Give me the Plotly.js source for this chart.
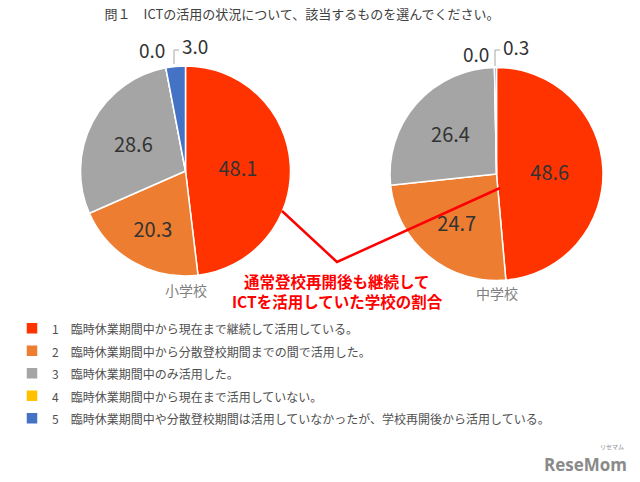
<!DOCTYPE html>
<html>
<head>
<meta charset="utf-8">
<script src="https://cdn.plot.ly/plotly-3.0.1.min.js"></script>
<style>html,body{margin:0;padding:0;background:#fff}#chart{width:640px;height:482px}</style>
</head>
<body>
<div id="chart"></div>
<script>
const categories = [
  "1\u3000臨時休業期間中から現在まで継続して活用している。",
  "2\u3000臨時休業期間中から分散登校期間までの間で活用した。",
  "3\u3000臨時休業期間中のみ活用した。",
  "4\u3000臨時休業期間中から現在まで活用していない。",
  "5\u3000臨時休業期間中や分散登校期間は活用していなかったが、学校再開後から活用している。"
];
const elementaryValues = [48.1, 20.3, 28.6, 0.0, 3.0];
const juniorHighValues = [48.6, 24.7, 26.4, 0.0, 0.3];
const schoolNames = ["小学校", "中学校"];
const sliceColors = ["#FF3300", "#ED7D31", "#A5A5A5", "#FFC000", "#4472C4"];
const titleText = "問１\u3000ICTの活用の状況について、該当するものを選んでください。";
const calloutLines = ["通常登校再開後も継続して", "ICTを活用していた学校の割合"];

const FONT = "'Noto Sans CJK JP', 'Noto Sans', sans-serif";
const W = 640, H = 482;
const px = x => x / W;
const py = y => 1 - y / H;

const legendLabels = categories.map(c => '<span style="font-size:12px">' + c + '</span>');

function pieTrace(values, cx, cy, r, showlegend) {
  return {
    type: 'pie',
    values: values,
    labels: legendLabels,
    sort: false,
    direction: 'clockwise',
    rotation: 0,
    marker: {colors: sliceColors, line: {color: '#ffffff', width: 1.5}},
    texttemplate: '%{value:.1f}',
    textposition: values.map(v => v < 5 ? 'none' : 'inside'),
    insidetextorientation: 'horizontal',
    textfont: {family: FONT, size: 20, color: '#333333'},
    domain: {x: [px(cx - r), px(cx + r)], y: [py(cy + r), py(cy - r)]},
    showlegend: showlegend,
    hoverinfo: 'label+value'
  };
}

const data = [
  pieTrace(elementaryValues, 185.5, 171, 105, true),
  pieTrace(juniorHighValues, 496.5, 174, 106.5, false)
];

// small-slice labels placed outside, pixel positions of the label boxes
const smallLabelPos = [
  {vals: elementaryValues, pos: {3: [152, 50], 4: [195, 45]}},
  {vals: juniorHighValues, pos: {3: [476, 53], 4: [516, 46]}}
];
const smallAnnotations = [];
smallLabelPos.forEach(s => {
  Object.keys(s.pos).forEach(k => {
    const p = s.pos[k];
    smallAnnotations.push({
      text: s.vals[k].toFixed(1), xref: 'paper', yref: 'paper', x: px(p[0]), y: py(p[1]),
      xanchor: 'center', yanchor: 'middle', showarrow: false,
      font: {family: FONT, size: 19, color: '#333333'}
    });
  });
});

const leader = (pts) => ({
  type: 'path', xref: 'paper', yref: 'paper',
  path: 'M ' + pts.map(p => px(p[0]) + ' ' + py(p[1])).join(' L '),
  line: {color: '#A6A6A6', width: 1}
});

const calloutAnnotations = calloutLines.map((t, i) => ({
  text: '<b>' + t + '</b>', xref: 'paper', yref: 'paper', x: px(337), y: py(281 + i * 20),
  xanchor: 'center', yanchor: 'middle', showarrow: false, align: 'center',
  font: {family: FONT, size: 15.5, color: '#FF0000'}
}));

const layout = {
  width: W, height: H,
  margin: {l: 0, r: 0, t: 0, b: 0},
  paper_bgcolor: '#ffffff',
  font: {family: FONT, color: '#404040'},
  title: {text: titleText, x: 0.472, xanchor: 'center', y: py(14), yanchor: 'middle',
          font: {family: FONT, size: 13, color: '#404040'}},
  showlegend: true,
  legend: {
    x: px(12), xanchor: 'left', y: py(312), yanchor: 'top',
    font: {family: FONT, size: 15, color: '#505050'},
    bgcolor: 'rgba(0,0,0,0)', traceorder: 'normal'
  },
  shapes: [
    {type: 'path', xref: 'paper', yref: 'paper',
     path: 'M ' + px(282) + ' ' + py(211) + ' L ' + px(337) + ' ' + py(262) + ' L ' + px(500) + ' ' + py(188),
     line: {color: '#FF0000', width: 2.5}},
    leader([[179, 50], [174, 50], [174, 64]]),
    leader([[500, 50], [495, 50], [495, 66]])
  ],
  annotations: smallAnnotations.concat(calloutAnnotations, [
    {text: schoolNames[0], xref: 'paper', yref: 'paper', x: px(186), y: py(290),
     xanchor: 'center', yanchor: 'middle', showarrow: false,
     font: {family: FONT, size: 14, color: '#7F7F7F'}},
    {text: schoolNames[1], xref: 'paper', yref: 'paper', x: px(497), y: py(293),
     xanchor: 'center', yanchor: 'middle', showarrow: false,
     font: {family: FONT, size: 14, color: '#7F7F7F'}},
    {text: '<b>ReseMom</b>', xref: 'paper', yref: 'paper', x: px(629), y: py(464),
     xanchor: 'right', yanchor: 'middle', showarrow: false,
     font: {family: "'Open Sans', sans-serif", size: 17, color: '#8A8A8A'}},
    {text: 'リセマム', xref: 'paper', yref: 'paper', x: px(612), y: py(446),
     xanchor: 'center', yanchor: 'middle', showarrow: false,
     font: {family: FONT, size: 6, color: '#8A8A8A'}}
  ])
};

Plotly.newPlot('chart', data, layout, {displayModeBar: false, staticPlot: true});
</script>
</body>
</html>
